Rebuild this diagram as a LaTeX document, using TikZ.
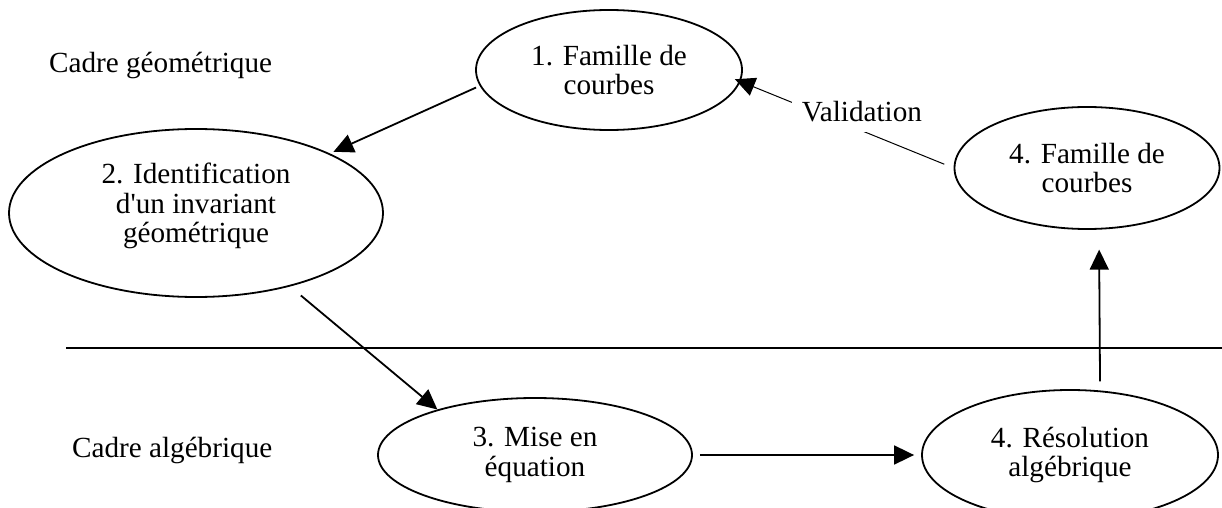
\documentclass[tikz,border=0pt]{standalone}
\usepackage{fontspec}
\setmainfont{Liberation Serif}
\usetikzlibrary{shapes.geometric,arrows.meta}

\begin{document}
\begin{tikzpicture}[x=0.5pt,y=-0.5pt,
  etape/.style={draw, ellipse, line width=0.9pt, inner sep=0pt, align=center,
    font=\fontsize{14.6}{14.8}\selectfont},
  cadre/.style={anchor=base west, font=\fontsize{14.6}{17}\selectfont},
  fleche/.style={-{Triangle[length=10pt,width=9.5pt]}, line width=0.9pt}]
\useasboundingbox (0,0) rectangle (1222,508);

\node[cadre] (geo) at (42,73) {Cadre géométrique};
\node[cadre] (alg) at (65,457) {Cadre algébrique};
\draw[line width=0.9pt] (66,348) -- (1222,348);

\node[etape, minimum width=133pt, minimum height=60pt] (e1) at (609,70) {1. Famille de\\courbes};
\node[etape, minimum width=187pt, minimum height=84pt] (e2) at (196,213) {2. Identification\\d\textquotesingle un invariant\\géométrique\\[-4.8pt]\mbox{}};
\node[etape, minimum width=157pt, minimum height=57pt] (e3) at (535,455) {3. Mise en\\équation};
\node[etape, minimum width=148pt, minimum height=65pt] (e4b) at (1070,455) {4. Résolution\\algébrique};
\node[etape, minimum width=132.5pt, minimum height=61pt] (e4t) at (1087,168) {4. Famille de\\courbes};

\draw[fleche, shorten <=2pt, shorten >=2pt] (e1.187) -- (e2.24);
\draw[fleche, shorten <=7pt] (e2.-38) -- (e3.155);
\draw[fleche, shorten <=3.5pt, shorten >=3.5pt] (e3.east) -- (e4b.west);
\draw[fleche, shorten <=4.5pt, shorten >=10pt] (e4b.65.5) -- (e4t.281);
\draw[fleche, line width=0.5pt, shorten <=5pt, shorten >=-3pt] (e4t.west) -- (e1.-5);
\node[fill=white, inner sep=5pt, font=\fontsize{14.6}{17}\selectfont] (val) at (862,112) {Validation};
\end{tikzpicture}
\end{document}
